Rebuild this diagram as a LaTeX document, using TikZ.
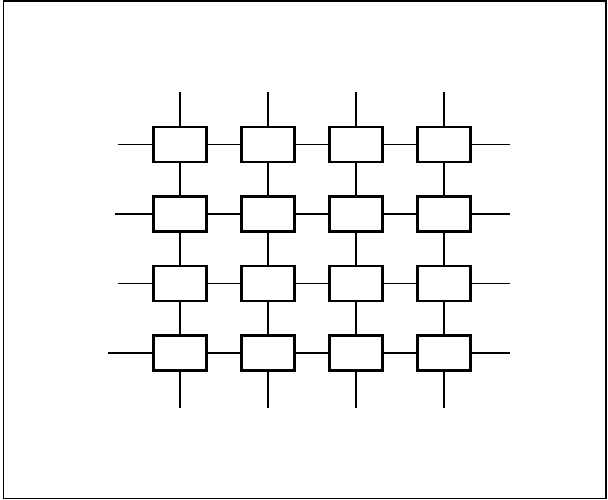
\documentclass[tikz,border=0pt]{standalone}
\usetikzlibrary{positioning}

\begin{document}
\begin{tikzpicture}[x=1pt, y=-1pt]
\tikzset{
  cell/.style ={draw, line width=2.2pt, minimum width=53pt, minimum height=35pt, inner sep=0pt},
  wire/.style ={line width=1.6pt},
  frame/.style={line width=1.4pt}
}
\useasboundingbox (0,0) rectangle (608,500);
\draw[frame] (3.5,1) rectangle (606,498.5);
% array of cells
\foreach \r in {1,...,4}
  \foreach \c in {1,...,4}
    \node (n\r\c)[cell] at ({180+88*(\c-1)},{144.5+69.5*(\r-1)}) {};
% free ends of the border links
\foreach \c in {1,...,4} {
  \coordinate (t\c) at (n1\c.north |- 0,92);
  \coordinate (b\c) at (n4\c.south |- 0,408);
}
\foreach \r/\lx in {1/118, 2/115, 3/118, 4/108} {
  \coordinate (l\r) at (\lx,0 |- n\r1.west);
  \coordinate (r\r) at (510,0 |- n\r4.east);
}
% links between neighbours
\foreach \r in {1,...,4}
  \foreach \c/\d in {1/2, 2/3, 3/4} {
    \draw[wire] (n\r\c.east) -- (n\r\d.west);
    \draw[wire] (n\c\r.south) -- (n\d\r.north);
  }
\foreach \i in {1,...,4} {
  \draw[wire] (t\i) -- (n1\i.north); \draw[wire] (n4\i.south) -- (b\i);
  \draw[wire] (l\i) -- (n\i1.west); \draw[wire] (n\i4.east) -- (r\i);
}
\end{tikzpicture}
\end{document}
